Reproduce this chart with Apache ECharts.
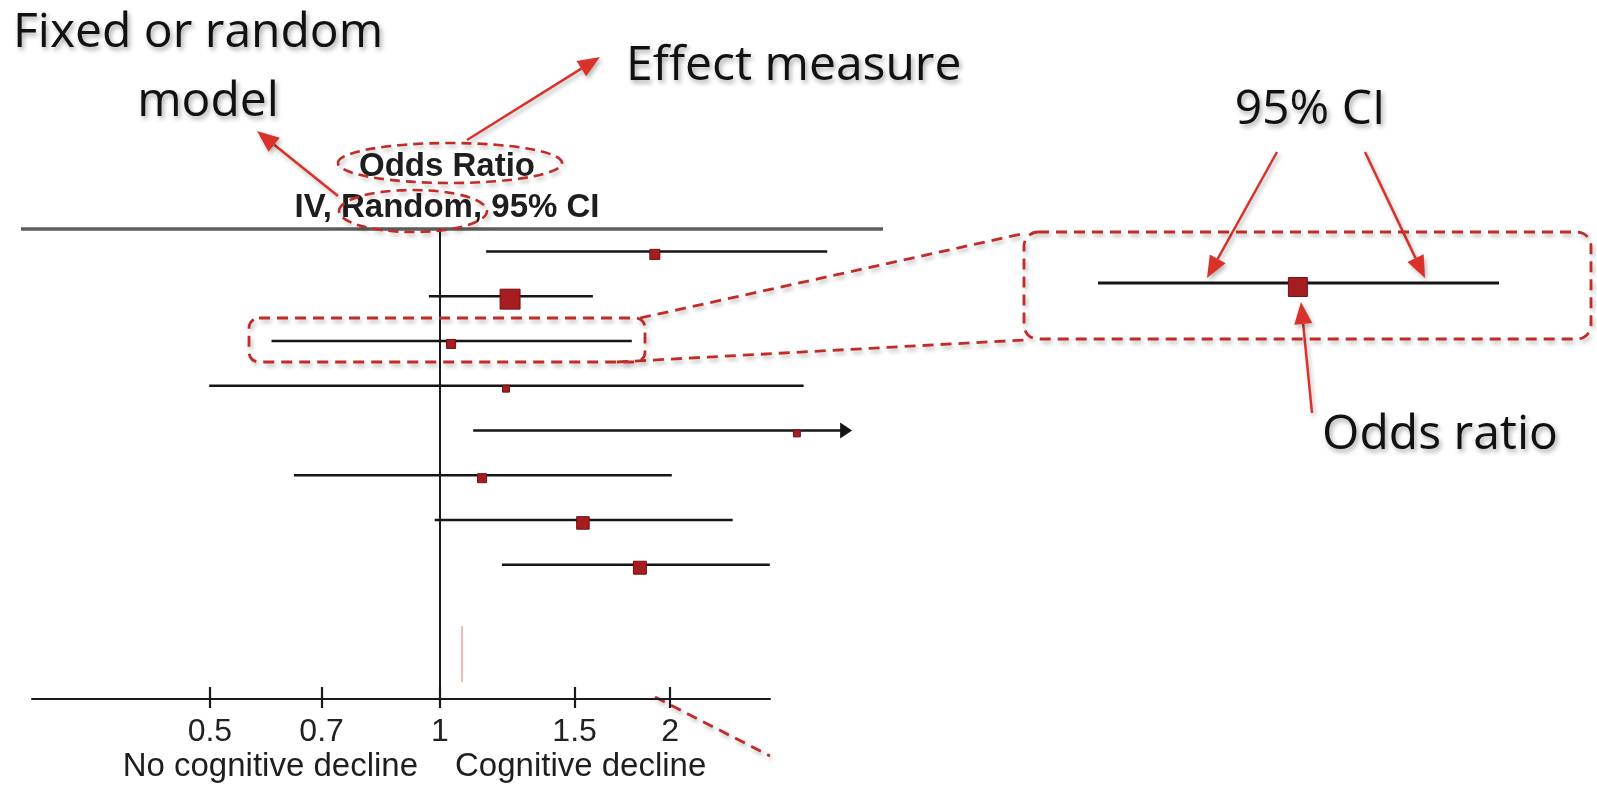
<!DOCTYPE html>
<html><head><meta charset="utf-8">
<script src="https://cdn.jsdelivr.net/npm/echarts@6/dist/echarts.min.js"></script>
<style>html,body{margin:0;padding:0;background:#fff}#c{width:1597px;height:788px}</style>
</head><body><div id="c"></div>
<script>
// ---- data ----
const studies   = [1, 2, 3, 4, 5, 6, 7, 8];
const oddsRatio = [1.91, 1.235, 1.034, 1.22, 2.93, 1.135, 1.538, 1.826];
const ciLower   = [1.149, 0.967, 0.602, 0.499, 1.105, 0.644, 0.984, 1.205];
const ciUpper   = [3.21, 1.585, 1.782, 2.99, 3.46, 2.01, 2.415, 2.70];
const ciArrow   = [0, 0, 0, 0, 1, 0, 0, 0];
const weights   = [3.6, 14.2, 2.9, 1.7, 1.7, 2.9, 5.6, 6.0];
const tickValues = [0.5, 0.7, 1, 1.5, 2];
const tickLabels = ['0.5', '0.7', '1', '1.5', '2'];
const insetStudy = 2;
const xMin = 0.2926, xMax = 2.702;

// ---- styles ----
const RED_ARROW = '#d9322b', RED_DASH = '#c02c28', SQ = '#a51d20';
const SHADOW = {shadowBlur: 4, shadowOffsetX: 2, shadowOffsetY: 3, shadowColor: 'rgba(0,0,0,0.28)'};
const ANN_FONT = '48px "Open Sans"';
const sqSize = w => 5.3 * Math.sqrt(w);

function arrow(x1, y1, x2, y2) {
  const a = Math.atan2(y2 - y1, x2 - x1), L = 22, W = 9;
  const bx = x2 - L * Math.cos(a), by = y2 - L * Math.sin(a);
  const px = -Math.sin(a) * W, py = Math.cos(a) * W;
  return {type: 'group', children: [
    {type: 'line', shape: {x1, y1, x2: bx, y2: by}, style: Object.assign({stroke: RED_ARROW, lineWidth: 2.5}, SHADOW)},
    {type: 'polygon', shape: {points: [[x2, y2], [bx + px, by + py], [bx - px, by - py]]}, style: Object.assign({fill: RED_ARROW}, SHADOW)}
  ]};
}
function dashLine(x1, y1, x2, y2) {
  return {type: 'line', shape: {x1, y1, x2, y2}, style: Object.assign({stroke: RED_DASH, lineWidth: 2.8, lineDash: [11, 7]}, SHADOW)};
}
function annText(text, x, y, align) {
  return {type: 'text', x, y, style: {text, font: ANN_FONT, fill: '#111', align, verticalAlign: 'middle',
    textShadowBlur: 5, textShadowOffsetX: 2, textShadowOffsetY: 3, textShadowColor: 'rgba(0,0,0,0.35)'}};
}
function chartText(text, x, y, align, font) {
  return {type: 'text', x, y, style: {text, font, fill: '#1e1e1e', align, verticalAlign: 'middle'}};
}

function renderCI(params, api) {
  const lo = api.coord([api.value(0), api.value(2)]);
  const hi = api.coord([api.value(1), api.value(2)]);
  const lw = api.value(4) || 2.5;
  const ch = [];
  if (api.value(3)) {
    const L = 12, H = 8;
    ch.push({type: 'line', shape: {x1: lo[0], y1: lo[1], x2: hi[0] - L + 1, y2: hi[1]}, style: {stroke: '#151515', lineWidth: lw}});
    ch.push({type: 'polygon', shape: {points: [[hi[0], hi[1]], [hi[0] - L, hi[1] - H], [hi[0] - L, hi[1] + H]]}, style: {fill: '#151515'}});
  } else {
    ch.push({type: 'line', shape: {x1: lo[0], y1: lo[1], x2: hi[0], y2: hi[1]}, style: {stroke: '#151515', lineWidth: lw}});
  }
  return {type: 'group', children: ch};
}

const ciData = studies.map((s, i) => [ciLower[i], ciUpper[i], s, ciArrow[i], 2.5]);
const orData = studies.map((s, i) => [oddsRatio[i], s, weights[i]]);
const labelFor = v => {
  let best = 0;
  tickValues.forEach((t, i) => { if (Math.abs(Math.log(t) - v) < Math.abs(Math.log(tickValues[best]) - v)) best = i; });
  return tickLabels[best];
};

const chart = echarts.init(document.getElementById('c'), null, {renderer: 'canvas'});
chart.setOption({
  animation: false,
  grid: [
    {left: 32, right: 827, top: 229, bottom: 89},
    {left: 1098, width: 401, top: 273, height: 20}
  ],
  xAxis: [
    {type: 'log', gridIndex: 0, min: xMin, max: xMax, position: 'bottom',
     axisLine: {show: true, lineStyle: {color: '#1a1a1a', width: 2}},
     axisTick: {show: false}, axisLabel: {show: false}, splitLine: {show: false}},
    {type: 'value', gridIndex: 0, min: Math.log(xMin), max: Math.log(xMax), position: 'bottom',
     axisLine: {show: false},
     axisTick: {show: true, inside: false, length: 9, customValues: tickValues.map(Math.log), lineStyle: {color: '#1a1a1a', width: 2.2}},
     axisLabel: {show: true, customValues: tickValues.map(Math.log), formatter: labelFor, margin: 17,
       fontSize: 32, fontFamily: '"Liberation Sans", Arial, sans-serif', color: '#222'},
     splitLine: {show: false}},
    {type: 'value', gridIndex: 0, min: Math.log(xMin), max: Math.log(xMax), position: 'bottom',
     axisLine: {show: false},
     axisTick: {show: true, inside: true, length: 12, customValues: tickValues.map(Math.log), lineStyle: {color: '#1a1a1a', width: 2.2}},
     axisLabel: {show: false}, splitLine: {show: false}},
    {type: 'log', gridIndex: 1, min: ciLower[insetStudy], max: ciUpper[insetStudy], show: false}
  ],
  yAxis: [
    {type: 'value', gridIndex: 0, inverse: true, min: 0.5, max: 11, show: false},
    {type: 'value', gridIndex: 1, min: 0, max: 2, show: false}
  ],
  series: [
    {type: 'custom', xAxisIndex: 0, yAxisIndex: 0, renderItem: renderCI, data: ciData,
     encode: {x: [0, 1], y: 2}, clip: false, silent: true, z: 3},
    {type: 'scatter', xAxisIndex: 0, yAxisIndex: 0, data: orData, symbol: 'rect',
     symbolSize: v => sqSize(v[2]), symbolOffset: [0, 3], clip: false, silent: true, z: 4,
     itemStyle: {color: SQ, borderColor: '#701214', borderWidth: 1, opacity: 1},
     markLine: {silent: true, symbol: ['none', 'none'], label: {show: false},
       lineStyle: {color: '#1a1a1a', width: 2, type: 'solid'}, data: [{xAxis: 1}]}},
    {type: 'custom', xAxisIndex: 3, yAxisIndex: 1, renderItem: renderCI,
     data: [[ciLower[insetStudy], ciUpper[insetStudy], 1, 0, 3]], encode: {x: [0, 1], y: 2}, clip: false, silent: true, z: 3},
    {type: 'scatter', xAxisIndex: 3, yAxisIndex: 1, data: [[oddsRatio[insetStudy], 1, weights[insetStudy]]],
     symbol: 'rect', symbolSize: v => 2.1 * sqSize(v[2]), symbolOffset: [0, 4], clip: false, silent: true, z: 4,
     itemStyle: {color: SQ, borderColor: '#701214', borderWidth: 1, opacity: 1}}
  ],
  graphic: {elements: [
    // header rule of the table
    {type: 'line', shape: {x1: 21, y1: 229, x2: 883, y2: 229}, style: {stroke: '#5c5c5c', lineWidth: 3.5}, z: 5},
    chartText('Odds Ratio', 447, 167, 'center', 'bold 33px "Liberation Sans", Arial, sans-serif'),
    chartText('IV, Random, 95% CI', 447, 208, 'center', 'bold 33px "Liberation Sans", Arial, sans-serif'),
    chartText('No cognitive decline', 418, 767, 'right', '33px "Liberation Sans", Arial, sans-serif'),
    chartText('Cognitive decline', 455, 767, 'left', '33px "Liberation Sans", Arial, sans-serif'),
    // annotations
    annText('Fixed or random', 13, 33, 'left'),
    annText('model', 208, 102, 'center'),
    annText('Effect measure', 626, 66, 'left'),
    annText('95% CI', 1310, 110, 'center'),
    annText('Odds ratio', 1440, 435, 'center'),
    {type: 'ellipse', shape: {cx: 450, cy: 163, rx: 112, ry: 20}, style: Object.assign({fill: null, stroke: RED_DASH, lineWidth: 2.6, lineDash: [10, 6]}, SHADOW), z: 6},
    {type: 'ellipse', shape: {cx: 413, cy: 211, rx: 74, ry: 21}, style: Object.assign({fill: null, stroke: RED_DASH, lineWidth: 2.6, lineDash: [10, 6]}, SHADOW), z: 6},
    arrow(467, 140, 600, 57),
    arrow(338, 196, 257, 131),
    arrow(1277, 152, 1207, 278),
    arrow(1365, 152, 1425, 278),
    arrow(1312, 413, 1301, 302),
    {type: 'rect', shape: {x: 249, y: 318, width: 396, height: 44, r: 10}, style: Object.assign({fill: null, stroke: RED_DASH, lineWidth: 2.8, lineDash: [11, 7]}, SHADOW), z: 6},
    {type: 'rect', shape: {x: 1024, y: 232, width: 567, height: 107, r: 14}, style: Object.assign({fill: null, stroke: RED_DASH, lineWidth: 2.8, lineDash: [11, 7]}, SHADOW), z: 6},
    dashLine(640, 318, 1026, 233),
    dashLine(617, 362, 1024, 340),
    dashLine(655, 697, 770, 756),
    {type: 'line', shape: {x1: 462, y1: 626, x2: 462, y2: 682}, style: {stroke: 'rgba(230,90,90,0.55)', lineWidth: 1.5}}
  ]}
});
</script>
</body></html>
